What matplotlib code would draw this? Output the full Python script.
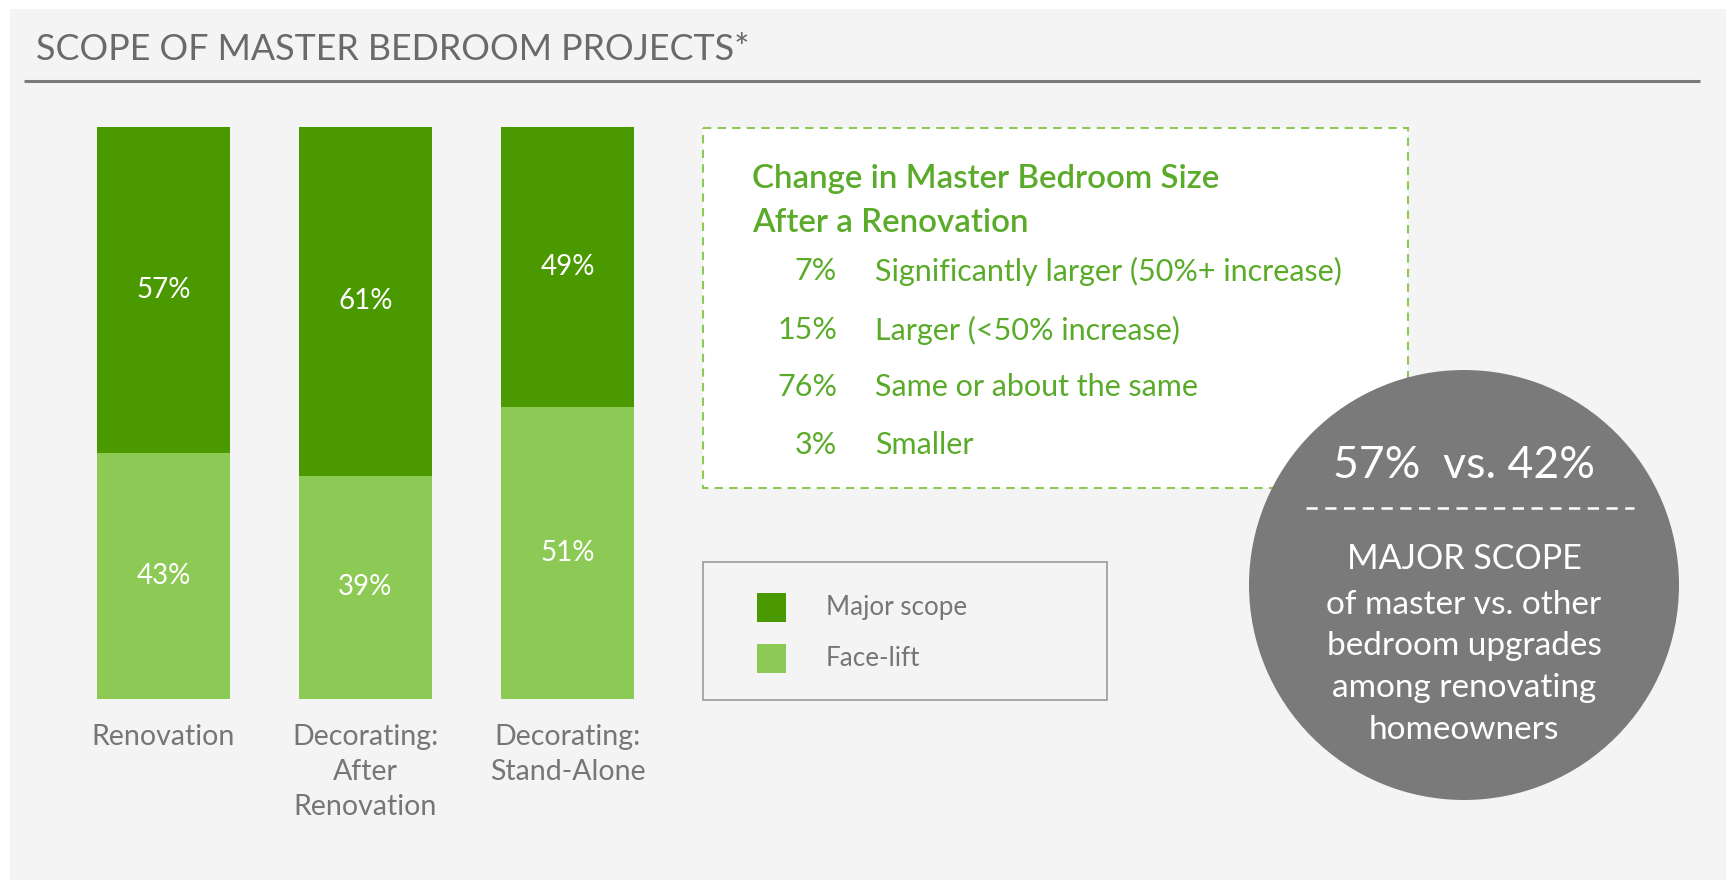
import matplotlib
matplotlib.use("Agg")
import matplotlib.pyplot as plt
from matplotlib.patches import Rectangle, Circle

plt.rcParams['font.family'] = ['Lato', 'DejaVu Sans']

# Data
categories = ['Renovation', 'Decorating:\nAfter\nRenovation', 'Decorating:\nStand-Alone']
major_scope = [57, 61, 49]
face_lift = [43, 39, 51]

size_pcts = [7, 15, 76, 3]
size_labels = ['Significantly larger (50%+ increase)', 'Larger (<50% increase)',
               'Same or about the same', 'Smaller']

master_major = 57
other_major = 42
circle_lines = ['of master vs. other', 'bedroom upgrades', 'among renovating', 'homeowners']

# Colours
DARK_GREEN = '#4b9900'
LIGHT_GREEN = '#8cc955'
TEXT_GREEN = '#5aab2a'
GRAY_TEXT = '#767676'
PANEL = '#f4f4f4'
CIRCLE = '#7a7a7a'

W, H = 1736, 882
fig = plt.figure(figsize=(W / 100, H / 100), dpi=100)
fig.patch.set_facecolor('white')

# Full-figure axes in pixel coordinates for the decorations
deco = fig.add_axes([0, 0, 1, 1])
deco.set_xlim(0, W)
deco.set_ylim(H, 0)
deco.axis('off')

deco.add_patch(Rectangle((10, 9), 1716, 871, facecolor=PANEL, edgecolor='none'))
deco.text(36, 50, 'SCOPE OF MASTER BEDROOM PROJECTS*', fontsize=25.8,
          color='#6a6a6a', va='center', ha='left')
deco.plot([24, 1700], [81, 81], color='#7a7a7a', lw=2.2, solid_capstyle='butt')

# Size-change box
deco.add_patch(Rectangle((703, 128), 705, 360, facecolor='white', edgecolor='#8cc955',
                         lw=1.5, linestyle=(0, (4, 3))))
deco.text(752, 179, 'Change in Master Bedroom Size', fontsize=23.8, fontweight='semibold',
          color=TEXT_GREEN, va='center', ha='left')
deco.text(752, 223, 'After a Renovation', fontsize=23.8, fontweight='semibold',
          color=TEXT_GREEN, va='center', ha='left')
row_y = [271, 330, 387, 445]
for y, p, lab in zip(row_y, size_pcts, size_labels):
    deco.text(837, y, f'{p}%', fontsize=22, color=TEXT_GREEN, va='center', ha='right')
    deco.text(875, y, lab, fontsize=22, color=TEXT_GREEN, va='center', ha='left')

# Legend box
deco.add_patch(Rectangle((703, 562), 404, 138, facecolor='none', edgecolor='#9a9a9a', lw=1.2))
for y, col, lab in [(607, DARK_GREEN, 'Major scope'), (658, LIGHT_GREEN, 'Face-lift')]:
    deco.add_patch(Rectangle((757, y - 14.5), 29, 29, facecolor=col, edgecolor='none'))
    deco.text(826, y, lab, fontsize=18.7, color=GRAY_TEXT, va='center', ha='left')

# Callout circle
cx, cy = 1464, 585
deco.add_patch(Circle((cx, cy), 215, facecolor=CIRCLE, edgecolor='none', zorder=3))
deco.text(cx, 466, f'{master_major}%  vs. {other_major}%', fontsize=32, color='white',
          va='center', ha='center', zorder=4)
deco.plot([1306, 1634], [508, 508], color='white', lw=1.8, linestyle=(0, (4.5, 3)), zorder=4)
deco.text(cx, 559, 'MAJOR SCOPE', fontsize=24.5, color='white', va='center', ha='center', zorder=4)
for y, line in zip([605, 646, 688, 730], circle_lines):
    deco.text(cx, y, line, fontsize=24, color='white',
              va='center', ha='center', zorder=4)

# Stacked bars
spacing = 202
left_px = 163.5 - spacing / 2
ax = fig.add_axes([left_px / W, (H - 699) / H, 3 * spacing / W, 572 / H])
ax.patch.set_alpha(0)
x = range(len(categories))
ax.bar(x, face_lift, width=0.66, color=LIGHT_GREEN, edgecolor='none')
ax.bar(x, major_scope, width=0.66, bottom=face_lift, color=DARK_GREEN, edgecolor='none')
for i in x:
    ax.text(i, face_lift[i] / 2, f'{face_lift[i]}%', color='white', fontsize=20,
            ha='center', va='center')
    ax.text(i, face_lift[i] + major_scope[i] / 2, f'{major_scope[i]}%', color='white',
            fontsize=20, ha='center', va='center')
ax.set_xlim(-0.5, 2.5)
ax.set_ylim(0, 100)
ax.set_xticks(list(x))
ax.set_xticklabels(categories, fontsize=20.5, color=GRAY_TEXT, linespacing=1.42)
ax.tick_params(axis='x', length=0, pad=18)
ax.set_yticks([])
for s in ax.spines.values():
    s.set_visible(False)

fig.savefig('out.png', dpi=100, facecolor=fig.get_facecolor())
